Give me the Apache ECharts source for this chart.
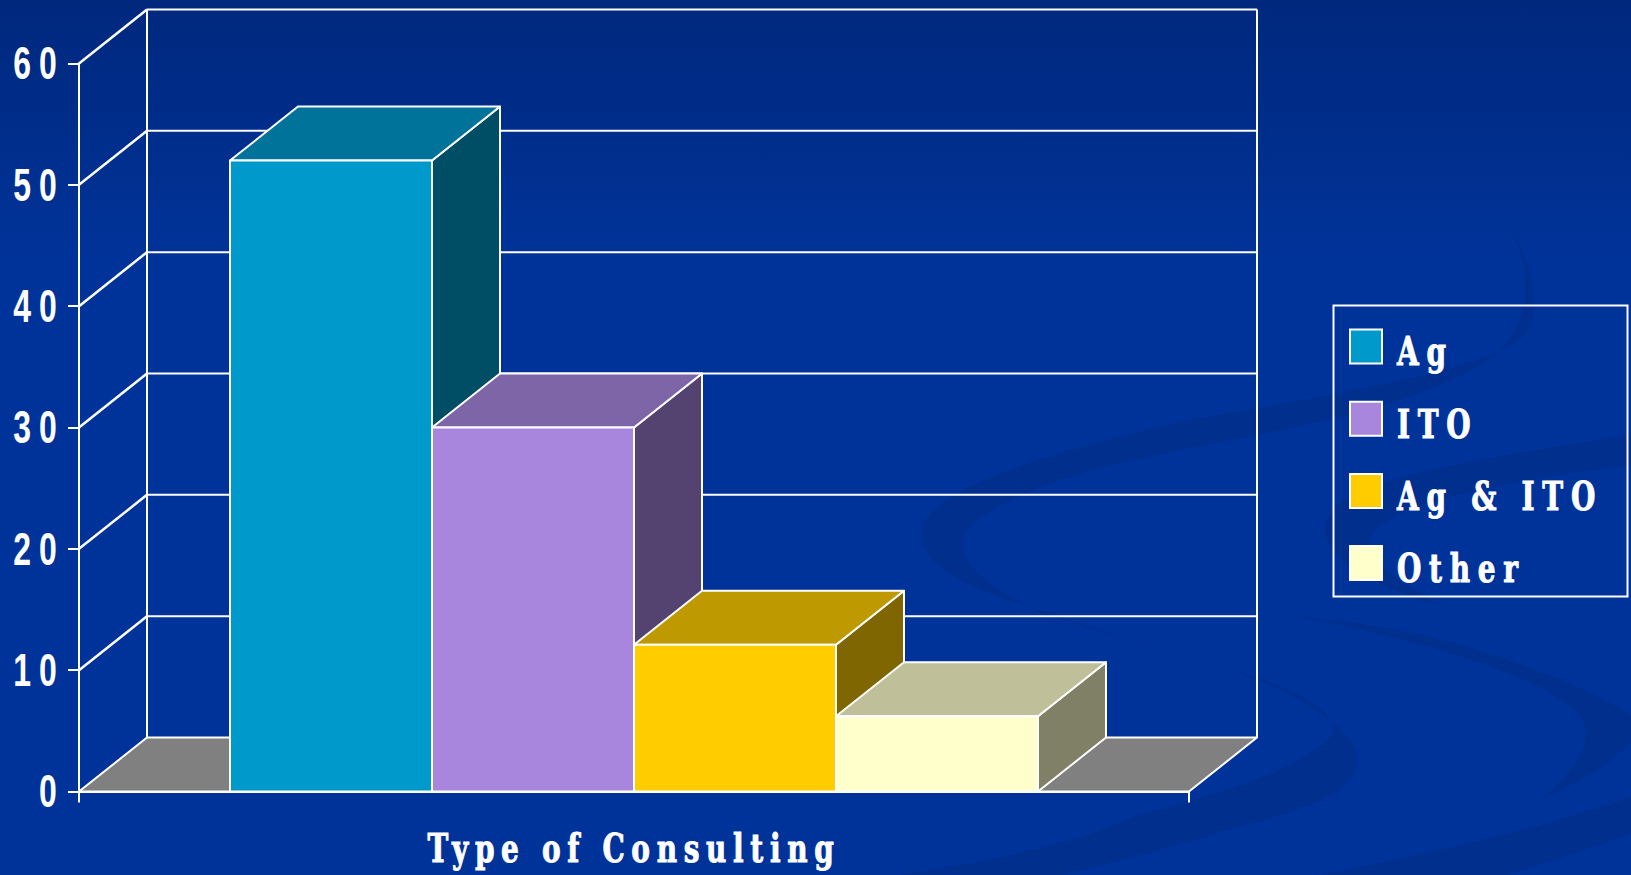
<!DOCTYPE html>
<html>
<head>
<meta charset="utf-8">
<title>Type of Consulting</title>
<script src="https://cdn.jsdelivr.net/npm/echarts@6/dist/echarts.min.js"></script>
<style>
  html, body { margin: 0; padding: 0; background: #003399; }
  #main { width: 1631px; height: 875px; }
  /* the svg renderer leaves text as <text>, so the wide tracking can sit in css */
  svg text[style*="Liberation Sans"] { letter-spacing: 12px; }
  svg text[style*="DejaVu Serif"] { letter-spacing: 11px; }
  svg text[style*="Liberation Serif"] { letter-spacing: 9.5px; }
</style>
</head>
<body>
<div id="main"></div>
<script>
var categories = ['Type of Consulting']
var seriesNames = ['Ag', 'ITO', 'Ag & ITO', 'Other']
var seriesValues = [52, 30, 12.1, 6.2]
var yTicks = [0, 10, 20, 30, 40, 50, 60]

var frontColors = ['#0099cc', '#a886de', '#ffcc00', '#ffffcc']
var topColors = ['#00739a', '#7e65a7', '#bf9900', '#bfbf99']
var sideColors = ['#004d66', '#544370', '#806600', '#808066']

var depthX = 68
var depthY = -54
var barShare = 202 / 1110
var line = '#ffffff'

// the faint swirls of the slide background
var swirls = [
  'M1513 232 C1532 265 1542 310 1525 335 C1490 370 1330 395 1190 420 C1080 445 950 480 925 520 C905 565 975 590 1040 610 C1120 640 1230 662 1290 695 C1340 722 1362 745 1357 765 C1350 800 1290 812 1220 832 C1170 848 1110 862 1063 875 L900 875 C1000 860 1080 842 1133 817 C1230 790 1300 770 1332 735 C1340 712 1300 695 1273 683 C1190 655 1110 635 1040 613 C985 585 955 560 965 535 C975 510 1060 475 1133 460 C1260 432 1400 415 1485 362 C1530 330 1535 285 1513 232 Z',
  'M1631 435 C1530 450 1440 465 1375 485 C1340 497 1322 515 1325 535 C1330 560 1380 590 1440 605 C1405 585 1360 560 1372 535 C1385 510 1470 485 1631 465 Z',
  'M1296 617 C1400 622 1540 660 1631 715 L1631 742 C1610 765 1575 785 1543 798 C1575 770 1590 745 1585 725 C1570 685 1430 640 1296 617 Z',
  'M1631 797 C1550 825 1450 850 1320 875 L1506 875 C1550 862 1600 845 1631 833 Z'
]

function poly(points, fill, width) {
  return {
    type: 'polygon',
    shape: { points: points },
    style: { fill: fill, stroke: line, lineWidth: width, lineJoin: 'round' }
  }
}

function seg(x1, y1, x2, y2, width) {
  return {
    type: 'line',
    shape: { x1: x1, y1: y1, x2: x2, y2: y2 },
    style: { stroke: line, lineWidth: width, fill: null }
  }
}

function renderSwirl(params) {
  return {
    type: 'path',
    shape: { pathData: swirls[params.dataIndex] },
    style: { fill: '#002f8e' },
    silent: true
  }
}

// back wall, side wall and floor, one call per y tick
function renderWall(params, api) {
  var sys = params.coordSys
  var left = sys.x
  var right = sys.x + sys.width
  var v = api.value(0)
  var y = api.coord([0, v])[1]
  var kids = []
  if (v === 0) {
    kids.push(poly([[left, y], [left + depthX, y + depthY], [right + depthX, y + depthY], [right, y]], '#808080', 2))
    kids.push(seg(left + depthX, sys.y + depthY, left + depthX, y + depthY, 2))
    kids.push(seg(right + depthX, sys.y + depthY, right + depthX, y + depthY, 2))
  } else {
    kids.push(seg(left + depthX, y + depthY, right + depthX, y + depthY, 2))
    kids.push(seg(left, y, left + depthX, y + depthY, 2.5))
  }
  return { type: 'group', children: kids }
}

function renderBar(index) {
  return function (params, api) {
    var base = api.coord([api.value(0), 0])
    var tip = api.coord([api.value(0), api.value(1)])
    var w = api.size([1, 0])[0] * barShare
    var x0 = base[0] - w * seriesNames.length / 2 + w * index
    var x1 = x0 + w
    var y0 = base[1]
    var y1 = tip[1]
    return {
      type: 'group',
      children: [
        poly([[x1, y0], [x1 + depthX, y0 + depthY], [x1 + depthX, y1 + depthY], [x1, y1]], sideColors[index], 2),
        poly([[x0, y1], [x0 + depthX, y1 + depthY], [x1 + depthX, y1 + depthY], [x1, y1]], topColors[index], 2),
        poly([[x0, y0], [x0, y1], [x1, y1], [x1, y0]], frontColors[index], 2)
      ]
    }
  }
}

var series = [{
  type: 'custom',
  name: 'swirl',
  coordinateSystem: 'none',
  renderItem: renderSwirl,
  data: swirls.map(function (s, i) { return [i] }),
  z: 0,
  silent: true
}, {
  type: 'custom',
  name: 'wall',
  coordinateSystem: 'cartesian2d',
  renderItem: renderWall,
  data: yTicks.map(function (t) { return [t] }),
  encode: { y: 0 },
  z: 1,
  silent: true
}]
for (var i = 0; i < seriesNames.length; i++) {
  series.push({
    type: 'custom',
    name: seriesNames[i],
    coordinateSystem: 'cartesian2d',
    renderItem: renderBar(i),
    data: [[0, seriesValues[i]]],
    encode: { x: 0, y: 1 },
    itemStyle: { color: frontColors[i] },
    z: 2 + i
  })
}

var chart = echarts.init(document.getElementById('main'), null, { renderer: 'svg' })
chart.setOption({
  animation: false,
  backgroundColor: {
    type: 'linear', x: 0, y: 0, x2: 0, y2: 1,
    colorStops: [
      { offset: 0, color: '#00287d' },
      { offset: 0.3, color: '#003399' },
      { offset: 1, color: '#003399' }
    ]
  },
  graphic: [{
    type: 'rect',
    shape: { x: 1333.5, y: 305.5, width: 294, height: 291 },
    style: { fill: 'none', stroke: line, lineWidth: 2 },
    z: 5,
    silent: true
  }],
  grid: { left: 79, right: 442, top: 63.5, bottom: 83.5, outerBoundsMode: 'none' },
  legend: {
    data: seriesNames,
    orient: 'vertical',
    left: 1349,
    top: 326,
    padding: 0,
    itemWidth: 32,
    itemHeight: 34,
    itemGap: 31.2,
    icon: 'rect',
    itemStyle: { borderColor: line, borderWidth: 2 },
    textStyle: {
      color: line,
      fontFamily: '"DejaVu Serif", serif',
      fontWeight: 'bold',
      fontSize: 40,
      textBorderColor: line,
      textBorderWidth: 1,
      padding: [0, 0, 0, 10]
    },
    selectedMode: false
  },
  xAxis: {
    type: 'category',
    data: categories,
    name: categories[0],
    nameLocation: 'middle',
    nameGap: 37,
    nameTextStyle: {
      color: line,
      fontFamily: '"DejaVu Serif", "Liberation Serif", serif',
      fontWeight: 'bold',
      fontSize: 40,
      textBorderColor: line,
      textBorderWidth: 1
    },
    axisLabel: { show: false },
    axisLine: { lineStyle: { color: line, width: 2 } },
    axisTick: { show: true, length: 11, lineStyle: { color: line, width: 2 } },
    splitLine: { show: false }
  },
  yAxis: {
    type: 'value',
    min: 0,
    max: 60,
    interval: 10,
    axisLine: { show: true, lineStyle: { color: line, width: 2 } },
    axisTick: { show: true, length: 11, lineStyle: { color: line, width: 2 } },
    axisLabel: {
      color: line,
      fontFamily: '"Liberation Sans", sans-serif',
      fontWeight: 'bold',
      fontSize: 47,
      margin: 14
    },
    splitLine: { show: false }
  },
  series: series
})

// squeeze the texts sideways around their own anchor, the slide font is tall and narrow
// legend texts also sit a bit lower than their swatches
var texts = document.querySelectorAll('#main svg text')
for (var t = 0; t < texts.length; t++) {
  var css = texts[t].getAttribute('style') || ''
  var sx = css.indexOf('Liberation Sans') >= 0 ? 0.68 : 0.7
  var isLegend = css.indexOf('DejaVu Serif') >= 0 && css.indexOf('Liberation Serif') < 0
  var x = parseFloat(texts[t].getAttribute('x')) || 0
  texts[t].setAttribute('x', x / sx)
  texts[t].setAttribute('transform', (texts[t].getAttribute('transform') || '') + (isLegend ? ' translate(0 5)' : '') + ' scale(' + sx + ' 1)')
}
</script>
</body>
</html>
